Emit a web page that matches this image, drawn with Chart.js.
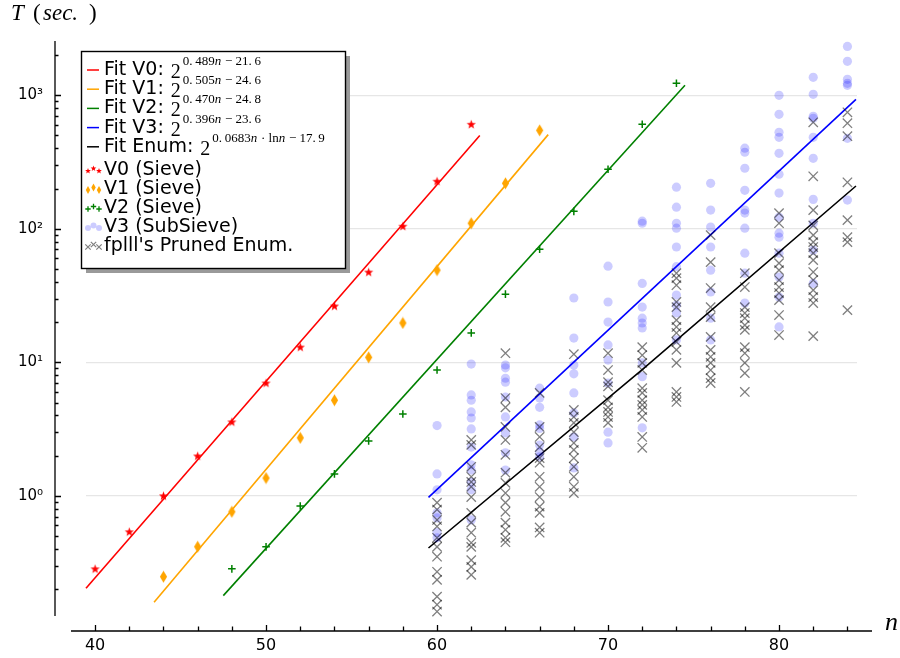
<!DOCTYPE html>
<html lang="en">
<head>
<meta charset="UTF-8">
<title>Sieve vs pruned enumeration timings</title>
<script src="https://cdn.jsdelivr.net/npm/chart.js"></script>
<style>
  html, body { margin: 0; padding: 0; background: #fff; }
</style>
</head>
<body>
<canvas id="chart" width="900" height="658"></canvas>
<script>
// ---- data ----
const v0Dims  = [40, 42, 44, 46, 48, 50, 52, 54, 56, 58, 60, 62];
const v0Times = [0.284, 0.538, 1.0, 1.99, 3.58, 7.0, 13.0, 26.4, 47.4, 104.5, 227, 606];

const v1Dims  = [44, 46, 48, 50, 52, 54, 56, 58, 60, 62, 64, 66];
const v1Times = [0.248, 0.416, 0.76, 1.36, 2.72, 5.2, 10.9, 19.7, 49, 110, 219, 546];

const v2Dims  = [48, 50, 52, 54, 56, 58, 60, 62, 64, 66, 68, 70, 72, 74];
const v2Times = [0.284, 0.415, 0.84, 1.46, 2.58, 4.1, 8.75, 16.6, 32.4, 70.3, 135, 279, 606, 1228];

// one row of runs per dimension
const bigDims = [60, 62, 64, 66, 68, 70, 72, 74, 76, 78, 80, 82, 84];
const v3Runs = [
  [3.36, 1.46, 1.11, 0.746, 0.684, 0.53, 0.485],
  [9.7, 5.7, 5.2, 4.25, 3.83, 3.17, 2.32, 1.71, 1.56, 1.27, 1.11, 0.66],
  [9.55, 9.1, 7.6, 7.1, 5.5, 3.9, 2.96, 2.1, 1.56],
  [6.4, 5.4, 4.6, 3.4, 3.2, 2.4, 2.13, 1.96],
  [30.3, 15.2, 9.55, 8.2, 5.9, 4.18, 2.76, 1.62],
  [52.5, 28.3, 20, 13.5, 10.4, 7.0, 3.0, 2.49],
  [114, 110, 39, 25.9, 21.4, 19.7, 18.1, 9.9, 7.8, 3.23],
  [205, 145, 110, 101, 73, 52, 31.9, 26.8, 23.4, 14.7],
  [219, 138, 103, 73, 49, 33.6, 21.4, 14.7],
  [401, 374, 284, 194, 138, 131, 101, 65.7, 46.5, 27.8],
  [998, 719, 528, 484, 367, 256, 185, 122, 92.7, 86.5, 65.7, 43.5, 30.8, 18.4],
  [1361, 1016, 695, 672, 484, 337, 166, 110, 69, 39],
  [2320, 1794, 1315, 1228, 1186, 476, 164]
];
const enumRuns = [
  [0.89, 0.79, 0.66, 0.59, 0.485, 0.415, 0.35, 0.27, 0.235, 0.176, 0.153, 0.136],
  [2.62, 2.41, 1.65, 1.39, 1.27, 1.17, 0.98, 0.746, 0.63, 0.53, 0.445, 0.415, 0.33, 0.294, 0.256],
  [11.7, 5.4, 4.6, 3.28, 2.62, 2.03, 1.49, 1.25, 1.05, 0.89, 0.76, 0.63, 0.557, 0.485, 0.45],
  [5.9, 3.28, 2.76, 2.32, 1.92, 1.77, 1.39, 1.17, 0.98, 0.83, 0.746, 0.58, 0.53],
  [11.5, 4.4, 3.9, 3.52, 3.0, 2.49, 2.21, 1.92, 1.65, 1.39, 1.17, 1.05],
  [11.7, 8.75, 7.1, 6.6, 5.2, 4.6, 4.25, 3.9, 3.52],
  [13, 11.3, 9.9, 8.75, 6.4, 5.9, 5.2, 4.8, 4.4, 3.9, 2.76, 2.29],
  [46.5, 42.7, 37.8, 28.3, 25.9, 20.7, 18.4, 16.6, 14.2, 12.4, 9.9, 6.0, 5.5, 5.05],
  [89.6, 56.3, 36, 25.9, 21.8, 15.5, 12.4, 11, 9.9, 8.75, 7.6, 7.0],
  [46.5, 36.6, 25.9, 23.4, 21.4, 19, 17.5, 13, 11.7, 9.9, 8.3, 6.0],
  [131, 110, 65.7, 55.3, 49, 41.3, 36.6, 33, 29.2, 22.6, 16],
  [627, 247, 138, 106, 89.6, 79.4, 73, 65.7, 58.2, 47.4, 41.3, 34.7, 30.8, 27.8, 15.7],
  [745, 617, 493, 223, 116, 86.5, 79.4, 24.6]
];

// fitted lines (end points as seen on the plot)
const fitV0X = [39.47, 62.5],  fitV0Y = [0.203, 500];
const fitV1X = [43.45, 66.5],  fitV1Y = [0.16, 507];
const fitV2X = [47.5, 74.5],   fitV2Y = [0.179, 1188];
const fitV3X = [59.5, 84.5],   fitV3Y = [0.975, 932];
const fitEnX = [59.5, 72, 84.5], fitEnY = [0.407, 8.8, 209];

const xTickVals = [40, 42, 44, 46, 48, 50, 52, 54, 56, 58, 60, 62, 64, 66, 68, 70, 72, 74, 76, 78, 80, 82, 84];
const xLabelVals = [40, 50, 60, 70, 80];
const yMajorTicks = [1, 10, 100, 1000];
const yLabels = {1: '10\u2070', 10: '10\u00b9', 100: '10\u00b2', 1000: '10\u00b3'};

// legend: exponent pieces, true = italic
const legendFits = [
  {name: 'Fit V0:', color: '#ff0000', exp: [['0.\u2009489', false], ['n', true], [' \u2212 21.\u20096', false]]},
  {name: 'Fit V1:', color: '#ffa500', exp: [['0.\u2009505', false], ['n', true], [' \u2212 24.\u20096', false]]},
  {name: 'Fit V2:', color: '#008000', exp: [['0.\u2009470', false], ['n', true], [' \u2212 24.\u20098', false]]},
  {name: 'Fit V3:', color: '#0000ff', exp: [['0.\u2009396', false], ['n', true], [' \u2212 23.\u20096', false]]},
  {name: 'Fit Enum:', color: '#000000', exp: [['0.\u20090683', false], ['n', true], [' \u00b7 ln', false], ['n', true], [' \u2212 17.\u20099', false]]}
];
const legendMarks = ['V0 (Sieve)', 'V1 (Sieve)', 'V2 (Sieve)', 'V3 (SubSieve)', "fplll's Pruned Enum."];

// ---- helpers ----
const pairs = (xs, ys) => xs.map((x, i) => ({x: x, y: ys[i]}));
const runs = (dims, rows) => dims.flatMap((n, i) => rows[i].map(t => ({x: n, y: t})));

function starPath(ctx, cx, cy, ro, ri) {
  ctx.beginPath();
  for (let k = 0; k < 10; k++) {
    const r = k % 2 ? ri : ro;
    const a = -Math.PI / 2 + k * Math.PI / 5;
    ctx.lineTo(cx + r * Math.cos(a), cy + r * Math.sin(a));
  }
  ctx.closePath();
}
function diamondPath(ctx, cx, cy, hw, hh) {
  ctx.beginPath();
  ctx.moveTo(cx, cy - hh); ctx.lineTo(cx + hw, cy); ctx.lineTo(cx, cy + hh); ctx.lineTo(cx - hw, cy);
  ctx.closePath();
}

const starImg = document.createElement('canvas');
starImg.width = 11; starImg.height = 11;
(function () { const c = starImg.getContext('2d'); c.fillStyle = '#ff0000'; starPath(c, 5.5, 5.8, 4.8, 2.0); c.fill(); })();

const diamondImg = document.createElement('canvas');
diamondImg.width = 9; diamondImg.height = 13;
(function () { const c = diamondImg.getContext('2d'); c.fillStyle = '#ffa500'; diamondPath(c, 4.5, 6.5, 3.6, 6.0); c.fill(); })();

// ---- decorations: axes, ticks, legend, titles ----
const decor = {
  id: 'decor',
  afterDraw(chart) {
    const ctx = chart.ctx;
    const xs = chart.scales.x, ys = chart.scales.y;
    ctx.save();
    ctx.strokeStyle = '#000';
    ctx.lineWidth = 1.3;

    // y axis line + inward ticks
    ctx.beginPath();
    ctx.moveTo(55, ys.top); ctx.lineTo(55, ys.bottom);
    ys.ticks.forEach(t => {
      const py = Math.round(ys.getPixelForValue(t.value)) + 0.5;
      const len = yMajorTicks.includes(t.value) ? 6 : 3.5;
      ctx.moveTo(55, py); ctx.lineTo(55 + len, py);
    });
    ctx.stroke();

    // x axis line + inward ticks
    const axY = 631;
    ctx.beginPath();
    ctx.moveTo(71, axY); ctx.lineTo(872, axY);
    xTickVals.forEach(v => {
      const px = Math.round(xs.getPixelForValue(v)) + 0.5;
      const len = xLabelVals.includes(v) ? 6 : 4.5;
      ctx.moveTo(px, axY); ctx.lineTo(px, axY - len);
    });
    ctx.stroke();

    // axis titles
    ctx.fillStyle = '#000';
    ctx.textBaseline = 'alphabetic';
    ctx.font = 'italic 23px "Liberation Serif"';
    ctx.fillText('T', 11, 20);
    ctx.fillText('sec.', 43, 20);
    ctx.font = '23px "Liberation Serif"';
    ctx.fillText('(', 33, 20);
    ctx.fillText(')', 89, 20);
    ctx.font = 'italic 26px "Liberation Serif"';
    ctx.fillText('n', 885, 630);

    // legend box with shadow
    const bx = 81, by = 51, bw = 264, bh = 217;
    ctx.fillStyle = '#9a9a9a';
    ctx.fillRect(bx + 5, by + 5, bw, bh);
    ctx.fillStyle = '#fff';
    ctx.fillRect(bx, by, bw, bh);
    ctx.lineWidth = 1.4;
    ctx.strokeRect(bx + 0.5, by + 0.5, bw, bh);

    const textX = 104;
    legendFits.forEach((f, i) => {
      const cy = 70 + i * 19.2;
      ctx.strokeStyle = f.color;
      ctx.lineWidth = 1.5;
      ctx.beginPath(); ctx.moveTo(87, cy); ctx.lineTo(99, cy); ctx.stroke();
      ctx.fillStyle = '#000';
      ctx.textBaseline = 'middle';
      ctx.font = '19px "DejaVu Sans"';
      ctx.fillText(f.name, textX, cy);
      let px = textX + ctx.measureText(f.name + ' ').width + 1;
      ctx.textBaseline = 'alphabetic';
      ctx.font = '20px "Liberation Serif"';
      ctx.fillText('2', px, cy + 8);
      px += ctx.measureText('2').width + 2;
      f.exp.forEach(([s, it]) => {
        ctx.font = (it ? 'italic ' : '') + '13px "Liberation Serif"';
        ctx.fillText(s, px, cy - 5);
        px += ctx.measureText(s).width + (it ? 0.5 : 0);
      });
    });

    ctx.textBaseline = 'middle';
    const markY = [170, 189, 208, 227, 246];
    legendMarks.forEach((label, i) => {
      const cy = markY[i];
      [[88, 1], [93.5, -1.5], [99, 1]].forEach(([mx, dy]) => {
        const my = cy + dy;
        if (i === 0) { ctx.fillStyle = '#ff0000'; starPath(ctx, mx, my, 3, 1.3); ctx.fill(); }
        if (i === 1) { ctx.fillStyle = '#ffa500'; diamondPath(ctx, mx, my, 2.2, 4); ctx.fill(); }
        if (i === 2) {
          ctx.strokeStyle = '#008000'; ctx.lineWidth = 1.3;
          ctx.beginPath(); ctx.moveTo(mx - 2.7, my); ctx.lineTo(mx + 2.7, my);
          ctx.moveTo(mx, my - 2.7); ctx.lineTo(mx, my + 2.7); ctx.stroke();
        }
        if (i === 3) { ctx.fillStyle = 'rgba(0,0,255,0.2)'; ctx.beginPath(); ctx.arc(mx, my, 3, 0, Math.PI * 2); ctx.fill(); }
        if (i === 4) {
          ctx.strokeStyle = 'rgba(0,0,0,0.5)'; ctx.lineWidth = 1.2;
          ctx.beginPath(); ctx.moveTo(mx - 2.7, my - 2.7); ctx.lineTo(mx + 2.7, my + 2.7);
          ctx.moveTo(mx - 2.7, my + 2.7); ctx.lineTo(mx + 2.7, my - 2.7); ctx.stroke();
        }
      });
      ctx.fillStyle = '#000';
      ctx.font = '19px "DejaVu Sans"';
      ctx.fillText(label, textX, cy);
    });
    ctx.restore();
  }
};

const fitLine = (xs, ys, color, order) => ({
  type: 'line', data: pairs(xs, ys), borderColor: color, borderWidth: 1.6,
  pointRadius: 0, fill: false, tension: 0, order: order, clip: false
});

new Chart(document.getElementById('chart'), {
  type: 'scatter',
  data: {
    datasets: [
      fitLine(fitV0X, fitV0Y, '#ff0000', 9),
      fitLine(fitV1X, fitV1Y, '#ffa500', 8),
      fitLine(fitV2X, fitV2Y, '#008000', 7),
      fitLine(fitV3X, fitV3Y, '#0000ff', 6),
      fitLine(fitEnX, fitEnY, '#000000', 5),
      { label: 'V0 (Sieve)', data: pairs(v0Dims, v0Times), pointStyle: starImg, pointRadius: 5, order: 4, clip: false },
      { label: 'V1 (Sieve)', data: pairs(v1Dims, v1Times), pointStyle: diamondImg, pointRadius: 5, order: 3, clip: false },
      { label: 'V2 (Sieve)', data: pairs(v2Dims, v2Times), pointStyle: 'cross', pointRadius: 3.8,
        borderColor: '#008000', borderWidth: 1.5, order: 2, clip: false },
      { label: 'V3 (SubSieve)', data: runs(bigDims, v3Runs), pointStyle: 'circle', pointRadius: 4.6,
        backgroundColor: 'rgba(0,0,255,0.2)', borderWidth: 0, order: 1, clip: false },
      { label: "fplll's Pruned Enum.", data: runs(bigDims, enumRuns), pointStyle: 'crossRot', pointRadius: 6.6,
        borderColor: 'rgba(0,0,0,0.5)', borderWidth: 1.3, order: 0, clip: false }
    ]
  },
  options: {
    responsive: false,
    animation: false,
    events: [],
    layout: { padding: { top: 41, right: 43, bottom: 0, left: 0 } },
    plugins: { legend: { display: false }, tooltip: { enabled: false } },
    scales: {
      x: {
        type: 'linear', min: 39.47, max: 84.56,
        border: { display: false },
        grid: { display: false, drawTicks: false },
        afterBuildTicks: s => { s.ticks = xTickVals.map(v => ({value: v})); },
        afterFit: s => { s.height = 42; s.paddingLeft = 0; s.paddingRight = 0; },
        ticks: {
          autoSkip: false, maxRotation: 0, padding: 20, color: '#000',
          font: { family: 'DejaVu Sans', size: 16 },
          callback: v => xLabelVals.includes(v) ? String(v) : ''
        }
      },
      y: {
        type: 'logarithmic', min: 0.126, max: 2547,
        border: { display: false },
        grid: {
          drawTicks: false, lineWidth: 1.2,
          color: c => (c.tick && yMajorTicks.includes(c.tick.value)) ? '#e6e6e6' : 'rgba(0,0,0,0)'
        },
        afterBuildTicks: s => {
          const t = [];
          [0.1, 1, 10, 100, 1000].forEach(d => {
            for (let m = 1; m <= 9; m++) {
              const v = Math.round(m * d * 1000) / 1000;
              if (v >= 0.126 && v <= 2547) t.push({value: v, major: m === 1});
            }
          });
          s.ticks = t;
        },
        afterFit: s => { s.width = 86; s.paddingTop = 0; s.paddingBottom = 0; },
        ticks: {
          autoSkip: false, padding: 43, color: '#000',
          font: { family: 'DejaVu Sans', size: 15 },
          callback: v => yLabels[v] || ''
        }
      }
    }
  },
  plugins: [decor]
});
</script>
</body>
</html>
